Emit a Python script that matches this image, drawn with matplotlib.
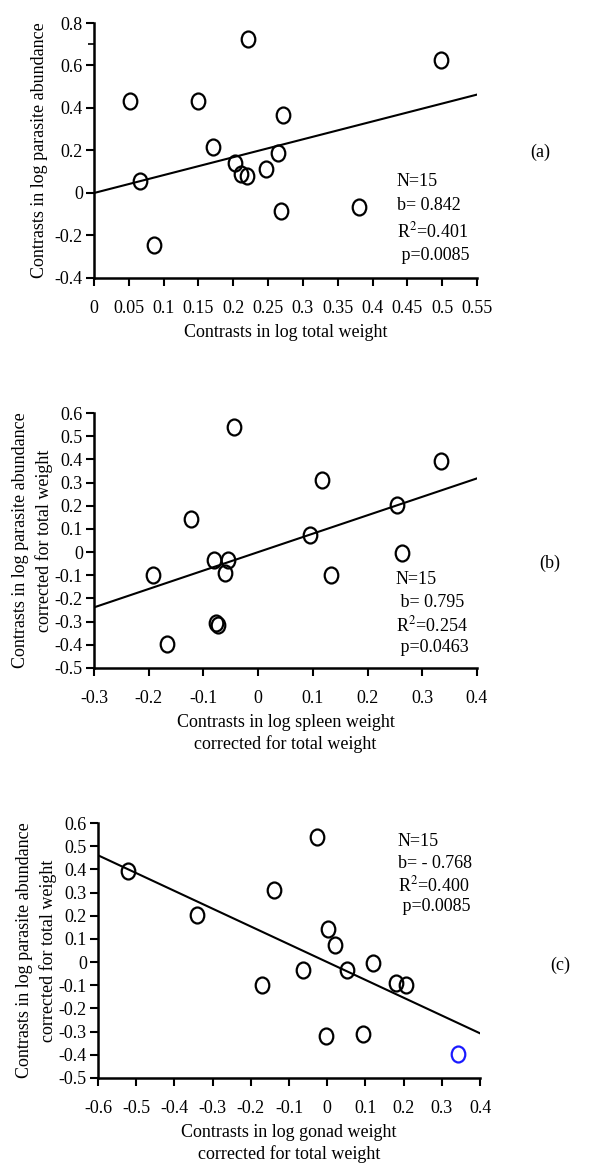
import matplotlib
matplotlib.use("Agg")
import matplotlib.pyplot as plt
from matplotlib.markers import MarkerStyle
from matplotlib.transforms import Affine2D
import numpy as np

plt.rcParams["font.family"] = ["Liberation Serif", "DejaVu Serif"]
plt.rcParams["font.size"] = 12
plt.rcParams["mathtext.fontset"] = "stix"

# (a) total weight vs parasite abundance
xa = [0.051, 0.066, 0.086, 0.150, 0.171, 0.203, 0.211, 0.219, 0.221,
      0.247, 0.264, 0.269, 0.272, 0.381, 0.498]
ya = [0.433, 0.058, -0.244, 0.433, 0.216, 0.139, 0.090, 0.082, 0.724,
      0.115, 0.189, -0.083, 0.365, -0.068, 0.625]
slope_a = 0.842

# (b) spleen weight
xb = [-0.193, -0.167, -0.122, -0.080, -0.077, -0.073, -0.061, -0.056, -0.045,
      0.095, 0.117, 0.134, 0.254, 0.263, 0.335]
yb = [-0.097, -0.395, 0.141, -0.036, -0.305, -0.315, -0.089, -0.036, 0.538,
      0.072, 0.309, -0.097, 0.202, -0.004, 0.394]
slope_b = 0.795

# (c) gonad weight
xc = [-0.522, -0.341, -0.170, -0.138, -0.063, -0.027, -0.003, 0.001, 0.020,
      0.052, 0.093, 0.121, 0.181, 0.205, 0.343]
yc = [0.394, 0.202, -0.097, 0.309, -0.036, 0.538, -0.319, 0.141, 0.072,
      -0.036, -0.311, -0.004, -0.089, -0.097, -0.395]
slope_c = -0.768

stats_a = ["N=15", "b= 0.842", "R$^{2}$=0.401", " p=0.0085"]
stats_b = ["N=15", " b= 0.795", "R$^{2}$=0.254", " p=0.0463"]
stats_c = ["N=15", "b= - 0.768", "R$^{2}$=0.400", " p=0.0085"]

W, H = 600, 1169
fig = plt.figure(figsize=(W / 100, H / 100), dpi=100)


def box(l, t, r, b):
    return [l / W, 1 - b / H, (r - l) / W, (b - t) / H]


oval = MarkerStyle("o", transform=Affine2D().scale(0.85, 1.0))


def panel(rect, x, y, slope, xlim, ylim, xticks, yticks, xlabel, ylabel,
          stats, stats_pos, step, tag, tag_pos, colors=None, ypad=3):
    ax = fig.add_axes(box(*rect))
    xs = np.array(xlim)
    ax.plot(xs, slope * xs, color="black", lw=1.5, zorder=2)
    if colors is None:
        colors = ["black"] * len(x)
    for xi, yi, c in zip(x, y, colors):
        ax.plot(xi, yi, marker=oval, ms=11.5, mfc="none", mec=c, mew=1.6,
                ls="none", zorder=3)
    ax.set_xlim(xlim)
    ax.set_ylim(ylim)
    ax.set_xticks(xticks)
    ax.set_yticks(yticks)
    ax.set_xticklabels([("%g" % v) for v in xticks])
    ax.set_yticklabels([("%g" % v) for v in yticks])
    for s in ["top", "right"]:
        ax.spines[s].set_visible(False)
    for s in ["left", "bottom"]:
        ax.spines[s].set_linewidth(1.8)
    ax.tick_params(direction="out", length=6, width=1.5, labelsize=13)
    ax.tick_params(axis="x", pad=10)
    ax.tick_params(axis="y", pad=2)
    ax.set_xlabel(xlabel, fontsize=13, linespacing=1.3, labelpad=5)
    ax.set_ylabel(ylabel, fontsize=13, linespacing=1.45, labelpad=ypad)
    sx, sy = stats_pos
    for i, s in enumerate(stats):
        fig.text(sx / W, 1 - (sy + i * step) / H, s, fontsize=13,
                 ha="left", va="center")
    fig.text(tag_pos[0] / W, 1 - tag_pos[1] / H, tag, fontsize=13,
             ha="center", va="center")
    return ax


ax_a = panel((94, 23, 477, 278), xa, ya, slope_a, (0, 0.55), (-0.4, 0.8),
             [0, 0.05, 0.1, 0.15, 0.2, 0.25, 0.3, 0.35, 0.4, 0.45, 0.5, 0.55],
             [-0.4, -0.2, 0, 0.2, 0.4, 0.6, 0.8],
             "Contrasts in log total weight",
             "Contrasts in log parasite abundance",
             stats_a, (397, 181), 25, "(a)", (540, 152), ypad=5)
ax_a.set_yticks([0.7], minor=True)
ax_a.tick_params(which="minor", direction="out", length=4, width=1.2)

panel((94, 413, 477, 668), xb, yb, slope_b, (-0.3, 0.4), (-0.5, 0.6),
      [-0.3, -0.2, -0.1, 0, 0.1, 0.2, 0.3, 0.4],
      [-0.5, -0.4, -0.3, -0.2, -0.1, 0, 0.1, 0.2, 0.3, 0.4, 0.5, 0.6],
      "Contrasts in log spleen weight\ncorrected for total weight",
      "Contrasts in log parasite abundance\ncorrected for total weight",
      stats_b, (396, 580), 22.5, "(b)", (550, 563), ypad=1)

colors_c = ["black"] * 14 + ["#1a1aff"]
panel((98, 823, 480, 1078), xc, yc, slope_c, (-0.6, 0.4), (-0.5, 0.6),
      [-0.6, -0.5, -0.4, -0.3, -0.2, -0.1, 0, 0.1, 0.2, 0.3, 0.4],
      [-0.5, -0.4, -0.3, -0.2, -0.1, 0, 0.1, 0.2, 0.3, 0.4, 0.5, 0.6],
      "Contrasts in log gonad weight\ncorrected for total weight",
      "Contrasts in log parasite abundance\ncorrected for total weight",
      stats_c, (398, 842), 21.5, "(c)", (560, 965), colors=colors_c, ypad=1)

fig.savefig("out.png", dpi=100)
